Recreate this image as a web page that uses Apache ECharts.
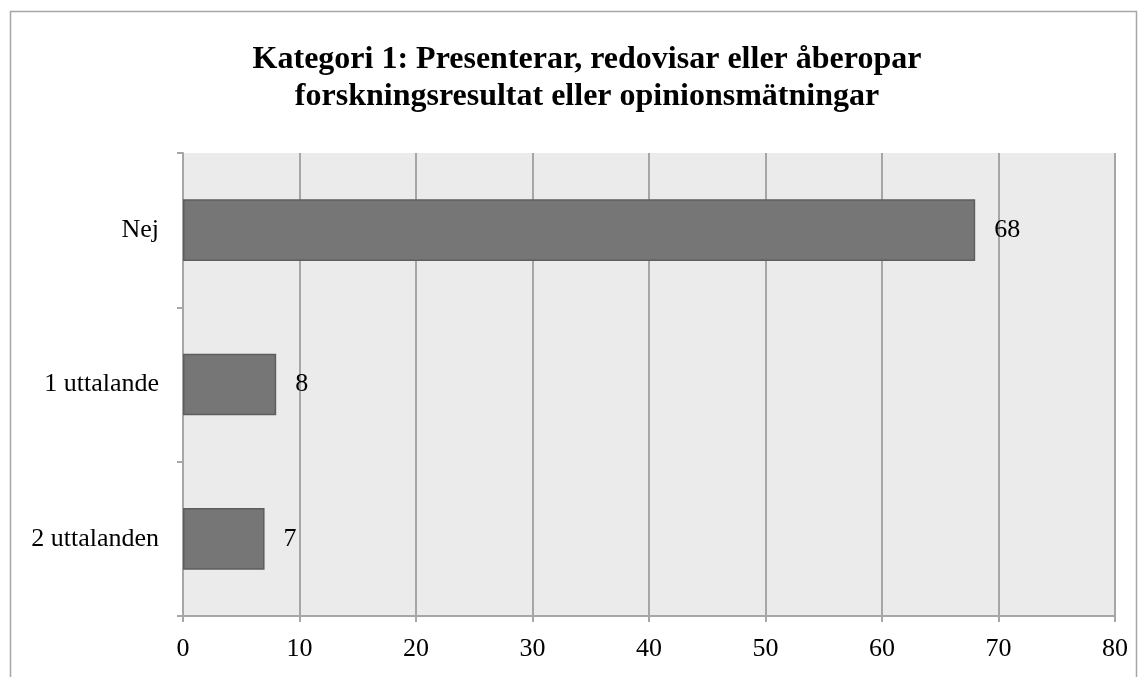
<!DOCTYPE html>
<html><head><meta charset="utf-8">
<script src="https://cdn.jsdelivr.net/npm/echarts@6/dist/echarts.min.js"></script>
<style>html,body{margin:0;padding:0;background:#fff}#c{width:1147px;height:677px}</style>
</head><body><div id="c"></div>
<script>
const categories = ["Nej", "1 uttalande", "2 uttalanden"];
const values = [68, 8, 7];
const xTicks = [0, 10, 20, 30, 40, 50, 60, 70, 80];
const titleText = "Kategori 1: Presenterar, redovisar eller åberopar\nforskningsresultat eller opinionsmätningar";

const chart = echarts.init(document.getElementById('c'), null, {renderer: 'canvas'});
const font = '"Liberation Serif", "Times New Roman", serif';
chart.setOption({
  animation: false,
  backgroundColor: '#fff',
  textStyle: {fontFamily: font},
  graphic: [{
    type: 'rect', shape: {x: 10.5, y: 11.5, width: 1126, height: 700},
    style: {fill: 'none', stroke: '#a6a6a6', lineWidth: 1.5}, z: -1
  }, {
    type: 'text', x: 587, y: 41,
    style: {
      text: titleText, align: 'center', verticalAlign: 'top',
      font: 'bold 32px ' + font, lineHeight: 37, fill: '#000'
    }
  }],
  grid: {left: 183, right: 32, top: 153, bottom: 61, show: true, backgroundColor: '#ebebeb', borderWidth: 0},
  xAxis: {
    type: 'value', min: xTicks[0], max: xTicks[xTicks.length - 1], interval: 10,
    axisLine: {show: true, lineStyle: {color: '#a6a6a6', width: 2}},
    axisTick: {show: true, length: 6, lineStyle: {color: '#a6a6a6', width: 2}},
    axisLabel: {fontFamily: font, fontSize: 26, color: '#000', margin: 20},
    splitLine: {show: true, lineStyle: {color: '#a6a6a6', width: 2}}
  },
  yAxis: {
    type: 'category', data: categories, inverse: true,
    axisLine: {show: true, lineStyle: {color: '#a6a6a6', width: 2}},
    axisTick: {show: true, length: 6, lineStyle: {color: '#a6a6a6', width: 2}},
    axisLabel: {fontFamily: font, fontSize: 26, color: '#000', margin: 24}
  },
  series: [{
    type: 'bar', data: values, barWidth: '40%',
    itemStyle: {color: '#767676', borderColor: '#5e5e5e', borderWidth: 1.5},
    label: {show: true, position: 'right', distance: 19, fontFamily: font, fontSize: 26, color: '#000'}
  }]
});
</script></body></html>
